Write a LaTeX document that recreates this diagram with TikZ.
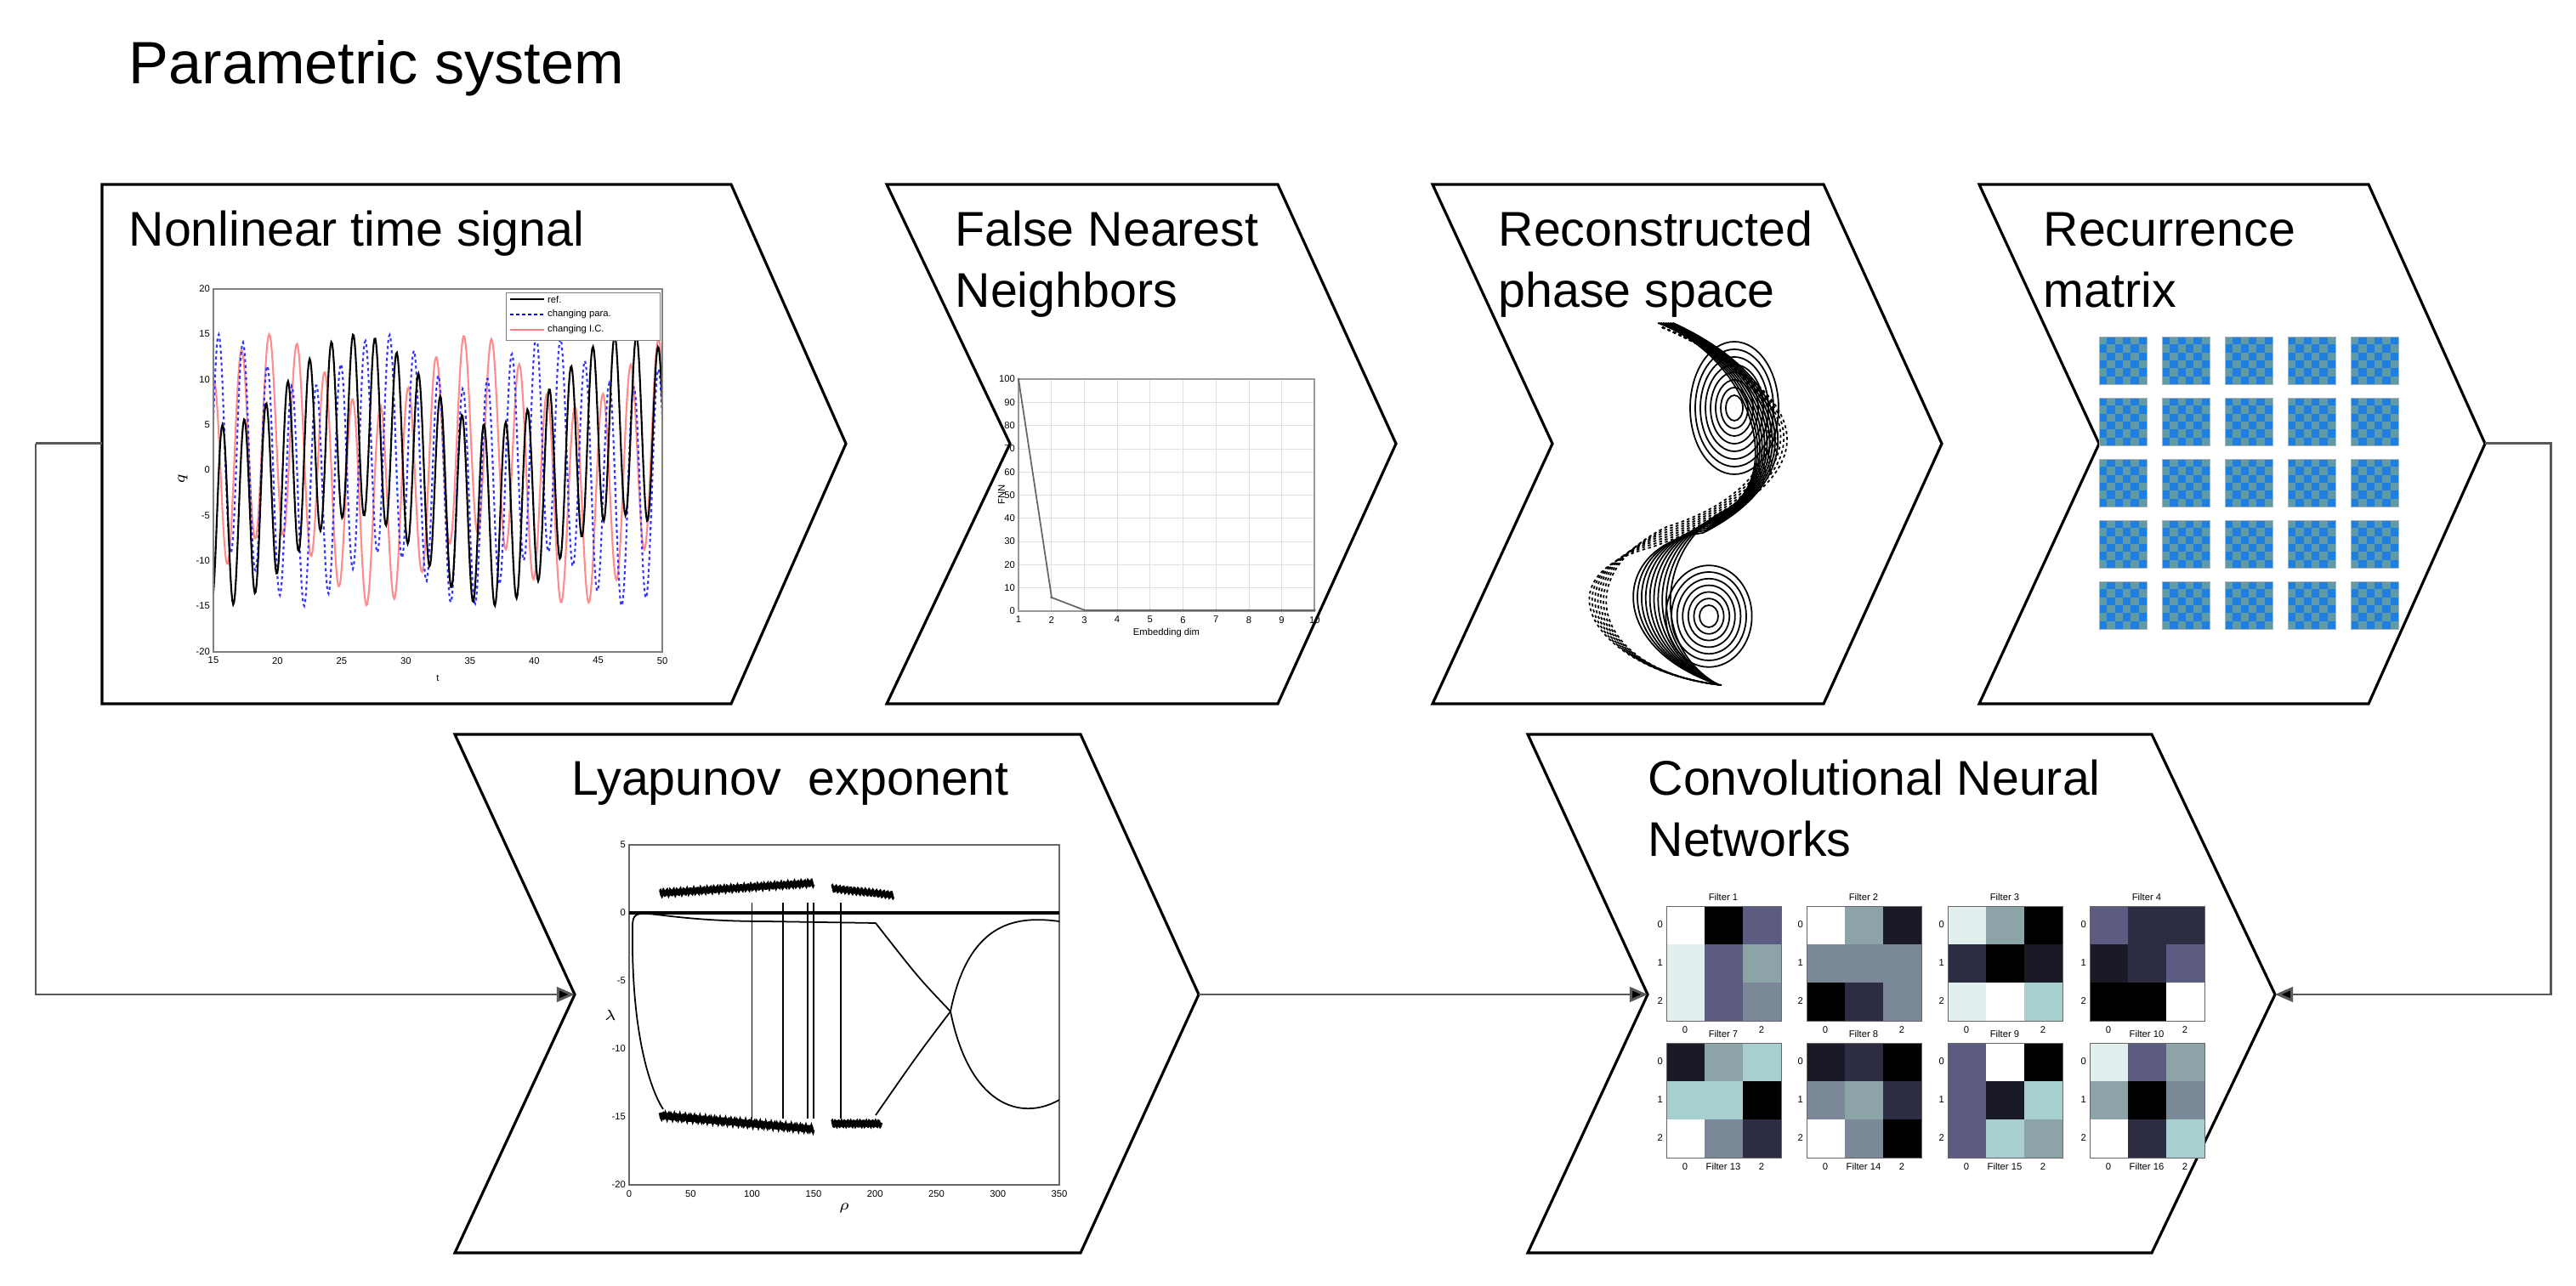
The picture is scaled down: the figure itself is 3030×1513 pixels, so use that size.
\documentclass[tikz,border=0pt]{standalone}
\usepackage{fontspec}
\setmainfont{Liberation Sans}
\usetikzlibrary{arrows.meta}
\definecolor{cW}{HTML}{FFFFFF}\definecolor{cL}{HTML}{E2EFEF}\definecolor{cC}{HTML}{A8CFCF}
\definecolor{cT}{HTML}{8CA3A8}\definecolor{cG}{HTML}{7A8898}\definecolor{cM}{HTML}{5C5C82}
\definecolor{cD}{HTML}{2C2C42}\definecolor{cK}{HTML}{1A1A26}\definecolor{cB}{HTML}{000000}
\definecolor{rcA}{HTML}{1E7FE0}\definecolor{rcB}{HTML}{5E9AA8}
\tikzset{
 chev/.style={draw=black,line width=0.9pt,fill=white},
 lbl/.style={anchor=base west,inner sep=0,font=\fontsize{16.3}{19}\selectfont},
 conn/.style={draw=black!65,line width=0.85pt},
 arr/.style={conn,-{Triangle[length=6pt,width=5pt,fill=black]}},
 tick/.style={font=\fontsize{3.2}{4}\selectfont,inner sep=1pt},
}
\newcommand{\filt}[4]{% x y title colours(9)
 \node[tick,anchor=south] at ({#1+67},{#2-2}) {#3};
 \foreach \c [count=\n from 0] in {#4}{
  \pgfmathtruncatemacro\ci{mod(\n,3)}\pgfmathtruncatemacro\ri{int(\n/3)}
  \fill[\c] ({#1+\ci*45},{#2+\ri*45}) rectangle +(45,45);}
 \draw[black!60,line width=0.2pt] (#1,#2) rectangle +(135,135);
 \foreach \k in {0,1,2}{\node[tick,anchor=east] at (#1,{#2+22+\k*45}) {\k};}
 \node[tick,anchor=north] at ({#1+22},{#2+137}) {0};
 \node[tick,anchor=north] at ({#1+112},{#2+137}) {2};
}
\begin{document}
\begin{tikzpicture}[x=0.01cm,y=-0.01cm]
\useasboundingbox (0,0) rectangle (3030,1513);
\node[anchor=base west,inner sep=0,font=\fontsize{20}{24}\selectfont] (title) at (151,99) {Parametric system};
% chevrons top
\coordinate (c1L) at (120,522);
\draw[chev] (120,217) -- (860,217) -- (995,522) coordinate (c1T) -- (860,828) -- (120,828) -- cycle;
\draw[chev] (1043,217) -- (1503,217) -- (1642,522) coordinate (c2T) -- (1503,828) -- (1043,828) -- (1188,522) coordinate (c2N) -- cycle;
\draw[chev] (1685,217) -- (2145,217) -- (2284,522) coordinate (c3T) -- (2145,828) -- (1685,828) -- (1826,522) coordinate (c3N) -- cycle;
\draw[chev] (2328,217) -- (2786,217) -- (2923,522) coordinate (c4T) -- (2786,828) -- (2328,828) -- (2469,522) coordinate (c4N) -- cycle;
% chevrons bottom
\draw[chev] (535,864) -- (1271,864) -- (1410,1170) coordinate (c5T) -- (1271,1474) -- (535,1474) -- (676,1170) coordinate (c5N) -- cycle;
\draw[chev] (1797,864) -- (2531,864) -- (2676,1170) coordinate (c6T) -- (2531,1474) -- (1797,1474) -- (1938,1170) coordinate (c6N) -- cycle;
% labels
\node[lbl] (t1) at (151,290) {Nonlinear time signal};
\node[lbl] (t2) at (1123,290) {False Nearest};
\node[lbl] (t2b) at (1123,362) {Neighbors};
\node[lbl] (t3) at (1762,290) {Reconstructed};
\node[lbl] (t3b) at (1762,362) {phase space};
\node[lbl] (t4) at (2403,290) {Recurrence};
\node[lbl] (t4b) at (2403,362) {matrix};
\node[lbl] (t5) at (672,936) {Lyapunov\ \ exponent};
\node[lbl] (t6) at (1938,936) {Convolutional Neural};
\node[lbl] (t6b) at (1938,1008) {Networks};
% connectors
\coordinate (lc1) at (42,522); \coordinate (lc2) at (42,1170);
\coordinate (rc1) at (3000,522); \coordinate (rc2) at (3000,1170);
\draw[conn] (c1L) -- (lc1);
\draw[arr] (lc1) -- (lc2) -- (c5N);
\draw[arr] (c5T) -- (c6N);
\draw[arr] (c4T) -- (rc1) -- (rc2) -- (c6T);
% ---- time signal plot
\begin{scope}
\clip (251,340) rectangle (779,767);
\draw[red!45,line width=0.6pt] plot[domain=15:50,samples=500,variable=\t] ({251+(\t-15)*15.09},{553-10.67*(11*sin(2.9*\t r+2 r)+4*sin(0.4*\t r))});
\draw[blue!80,dash pattern=on 1pt off 1pt,line width=0.6pt] plot[domain=15:50,samples=500,variable=\t] ({251+(\t-15)*15.09},{553-10.67*(12*sin(3.3*\t r+1 r)+3*sin(0.5*\t r))});
\draw[black,line width=0.6pt] plot[domain=15:50,samples=500,variable=\t] ({251+(\t-15)*15.09},{553-10.67*(10*sin(3.7*\t r)+5*sin(0.3*\t r))});
\end{scope}
\draw[black!50,line width=0.3pt] (251,340) rectangle (779,767);
\draw[fill=white,draw=black!50,line width=0.2pt] (595,344) rectangle (776,400);
\draw[black,line width=0.5pt] (600,352) -- (640,352); \node[tick,anchor=west] at (640,352) {ref.};
\draw[blue,dash pattern=on 1pt off 1pt,line width=0.5pt] (600,370) -- (640,370); \node[tick,anchor=west] at (640,370) {changing para.};
\draw[red!50,line width=0.5pt] (600,388) -- (640,388); \node[tick,anchor=west] at (640,388) {changing I.C.};
\foreach \v in {20,15,10,5,0,-5,-10,-15,-20}{\node[tick,anchor=east] at (251,{553-10.67*\v}) {\v};}
\foreach \v in {15,20,...,50}{\node[tick,anchor=north] at ({251+(\v-15)*15.09},769) {\v};}
\node[tick,anchor=north] at (515,790) {t};
\node[tick,anchor=east,rotate=90] at (215,553) {$q$};
% ---- FNN plot
\foreach \k in {0,...,9}{\draw[black!12,line width=0.2pt] ({1198+\k*38.7},446) -- ++(0,273);}
\foreach \k in {0,...,10}{\draw[black!12,line width=0.2pt] (1198,{446+\k*27.3}) -- ++(348,0);}
\draw[black!40,line width=0.3pt] (1198,446) rectangle (1546,719);
\draw[black!60,line width=0.5pt] (1198,446) -- (1237,703) -- (1276,718) -- (1546,718);
\foreach \k in {1,...,10}{\fill[black!60] ({1198+(\k-1)*38.7},{\k==1?446:(\k==2?703:718)}) circle (1.5);}
\foreach \k in {1,...,10}{\node[tick,anchor=north] at ({1198+(\k-1)*38.7},721) {\k};}
\foreach \k in {0,10,...,100}{\node[tick,anchor=east] at (1198,{719-\k*2.73}) {\k};}
\node[tick,anchor=north] at (1372,735) {Embedding dim};
\node[tick,rotate=90] at (1178,582) {FNN};
% ---- phase space
\begin{scope}[line width=0.5pt]
\foreach \k in {0,...,9}{
 \draw ({1950+\k*2},380) .. controls ({2060+\k*6},{420+\k*3}) and ({2100+\k*4},560) .. ({2030-\k*3},{600+\k*3}) .. controls ({1950-\k*6},{640}) and ({1940-\k*6},{760}) .. ({2020},{805});}
\foreach \k in {0,...,6}{
 \draw[dash pattern=on 1pt off 1pt] ({1955},385) .. controls ({2120+\k*6},{450+\k*4}) and ({2120+\k*5},{570}) .. ({1960-\k*3},{620+\k*4}) .. controls ({1840-\k*6},{680}) and ({1880},{790}) .. (2025,806);}
\foreach \r in {10,16,...,52}{\draw (2040,{480}) ellipse ({\r} and {\r*1.5});}
\foreach \r in {10,16,...,46}{\draw (2010,{725}) ellipse ({\r*1.1} and {\r*1.3});}
\end{scope}
% ---- recurrence matrices
\foreach \i in {0,...,4}{\foreach \j in {0,...,4}{
 \pgfmathsetmacro\X{2469+\i*74}\pgfmathsetmacro\Y{396+\j*72}
 \fill[rcA] (\X,\Y) rectangle +(56,56);
 \foreach \a in {0,...,5}{\foreach \b in {0,2,4}{
   \fill[rcB] ({\X+\a*9.33},{\Y+(\b+mod(\a+\i+\j,2))*9.33}) rectangle +(9.33,9.33);}}
 \draw[black!30,line width=0.2pt] (\X,\Y) rectangle +(56,56);
}}
% ---- Lyapunov plot
\draw[black!60,line width=0.3pt] (740,994) rectangle (1246,1394);
\foreach \v in {5,0,-5,-10,-15,-20}{\node[tick,anchor=east] at (740,{994+(5-\v)*16}) {\v};}
\foreach \v in {0,50,...,350}{\node[tick,anchor=north] at ({740+\v*1.446},1396) {\v};}
\node[tick,anchor=north] at (993,1412) {$\rho$};
\node[tick] at (718,1194) {$\lambda$};
\begin{scope}[line width=0.5pt]
\draw[line width=1.1pt] (740,1074) -- (1246,1074);
\draw[line width=0.9pt] plot[domain=25:150,samples=300,variable=\p] ({740+\p*1.446},{1074-16*(1.3+0.2*sin(mod(2.3*\p,6.2832) r)+0.006*\p)});
\draw[line width=0.9pt] plot[domain=165:215,samples=150,variable=\p] ({740+\p*1.446},{1074-16*(1.8+0.2*sin(mod(2.1*\p,6.2832) r)-0.01*(\p-165))});
\draw[line width=0.9pt] plot[domain=25:150,samples=300,variable=\p] ({740+\p*1.446},{1074-16*(-14.7-0.2*sin(mod(2.7*\p,6.2832) r)-0.008*\p)});
\draw[line width=0.9pt] plot[domain=165:205,samples=150,variable=\p] ({740+\p*1.446},{1074-16*(-15.5-0.2*sin(mod(2.5*\p,6.2832) r))});
\draw (744,1090) .. controls (744,1060) and (760,1084) .. (900,1084) -- (1030,1086);
\draw (744,1090) .. controls (742,1230) and (770,1290) .. (780,1305);
\foreach \p in {100,125,145,150,172}{\draw ({740+\p*1.446},1062) -- ({740+\p*1.446},1316);}
\draw (1030,1086) .. controls (1080,1150) .. (1118,1190);
\draw (1030,1312) .. controls (1080,1240) .. (1118,1190);
\draw (1118,1190) .. controls (1140,1080) and (1200,1078) .. (1246,1084);
\draw (1118,1190) .. controls (1140,1300) and (1200,1320) .. (1246,1294);
\end{scope}
% ---- CNN filters
\filt{1960}{1066}{Filter 1}{cW,cB,cM,cL,cM,cT,cL,cM,cG}
\filt{2125}{1066}{Filter 2}{cW,cT,cK,cG,cG,cG,cB,cD,cG}
\filt{2291}{1066}{Filter 3}{cL,cT,cB,cD,cB,cK,cL,cW,cC}
\filt{2458}{1066}{Filter 4}{cM,cD,cD,cK,cD,cM,cB,cB,cW}
\filt{1960}{1227}{Filter 7}{cK,cT,cC,cC,cC,cB,cW,cG,cD}
\filt{2125}{1227}{Filter 8}{cK,cD,cB,cG,cT,cD,cW,cG,cB}
\filt{2291}{1227}{Filter 9}{cM,cW,cB,cM,cK,cC,cM,cC,cT}
\filt{2458}{1227}{Filter 10}{cL,cM,cT,cT,cB,cG,cW,cD,cC}
\foreach \x/\n in {1960/13,2125/14,2291/15,2458/16}{\node[tick] at ({\x+67},1372) {Filter \n};}
\end{tikzpicture}
\end{document}
